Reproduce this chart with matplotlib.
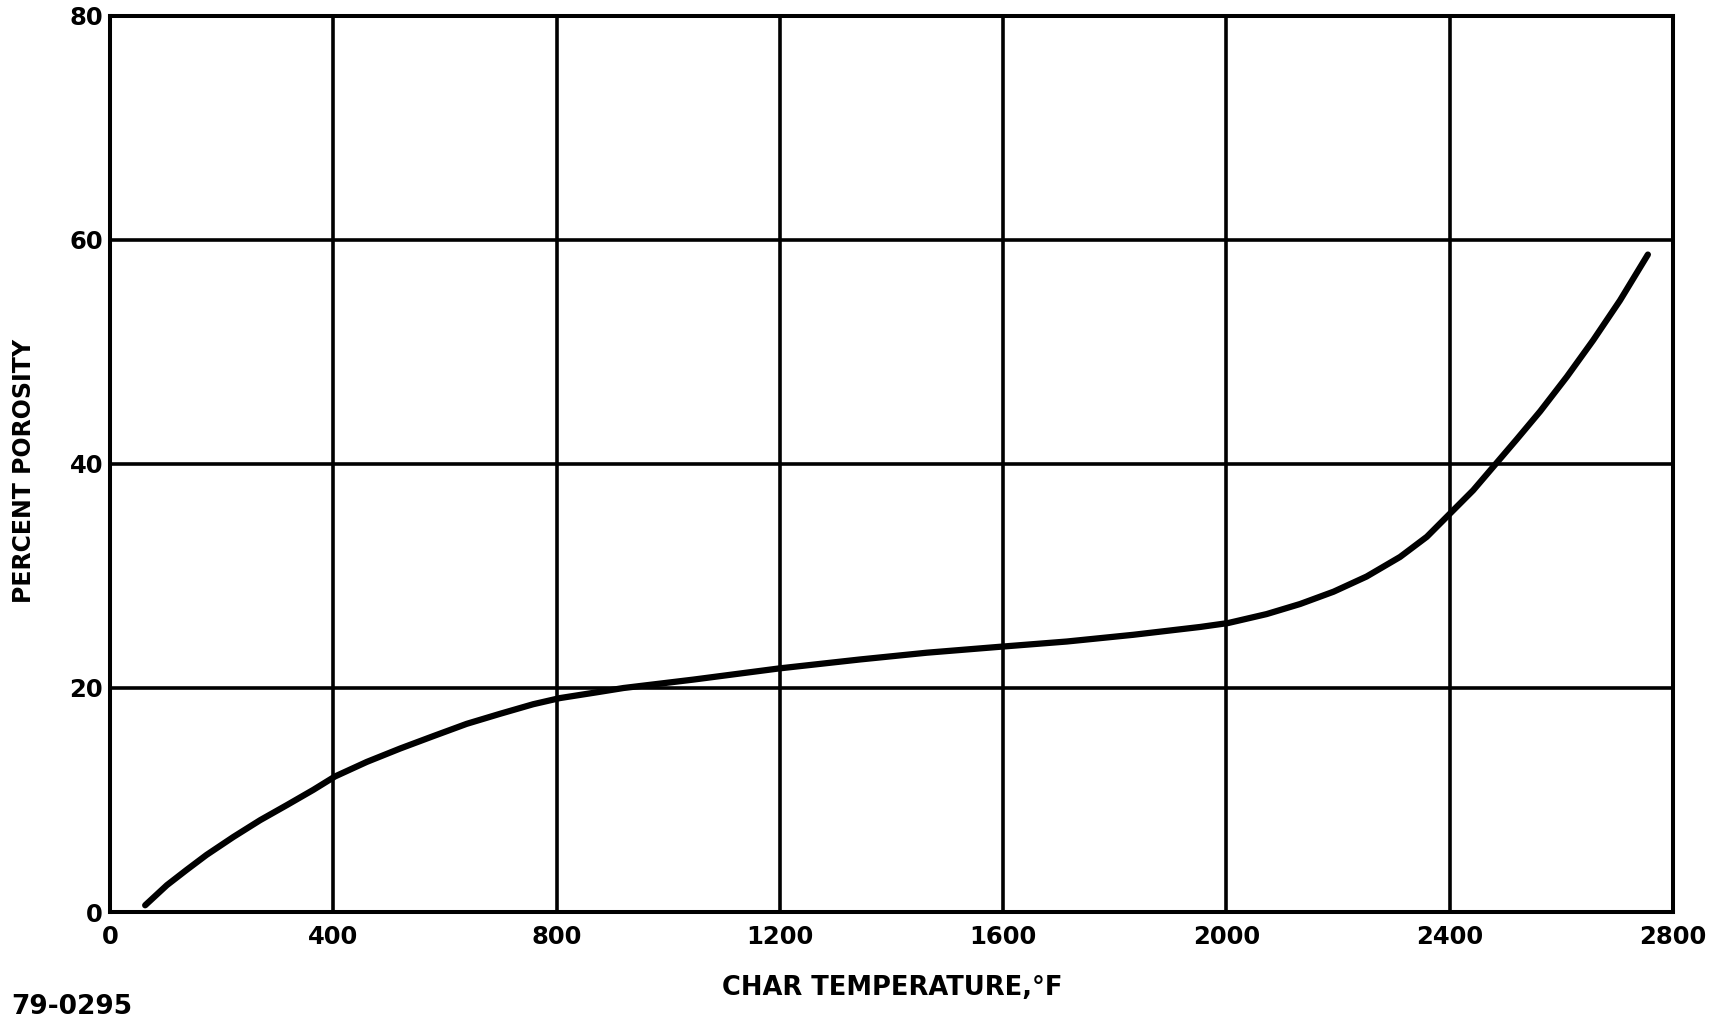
import matplotlib
matplotlib.use("Agg")
import matplotlib.pyplot as plt

# Data
char_temp_f = [63, 102, 137, 173, 221, 269, 317, 364, 403, 460, 520, 579,
               639, 699, 758, 806, 870, 920, 1045, 1199, 1344, 1463, 1599,
               1714, 1833, 1953, 2003, 2072, 2132, 2192, 2251, 2311, 2359,
               2401, 2442, 2478, 2520, 2562, 2610, 2657, 2705, 2755]
porosity_pct = [0.6, 2.4, 3.75, 5.1, 6.7, 8.2, 9.55, 10.9, 12.1, 13.4, 14.6, 15.7,
                16.8, 17.7, 18.55, 19.1, 19.6, 20.0, 20.75, 21.75, 22.55, 23.15, 23.7,
                24.15, 24.75, 25.45, 25.8, 26.6, 27.5, 28.6, 29.95, 31.7, 33.5,
                35.6, 37.65, 39.75, 42.2, 44.7, 47.8, 51.05, 54.6, 58.7]

x_ticks = [0, 400, 800, 1200, 1600, 2000, 2400, 2800]
y_ticks = [0, 20, 40, 60, 80]

plt.rcParams['font.family'] = ['DejaVu Sans']

fig = plt.figure(figsize=(17.25, 10.26), dpi=100)
ax = fig.add_axes([110 / 1725, 1 - 912 / 1026, (1673 - 110) / 1725, (912 - 16) / 1026])

ax.set_xlim(0, 2800)
ax.set_ylim(0, 80)
ax.set_xticks(x_ticks)
ax.set_yticks(y_ticks)
ax.set_xticklabels([str(v) for v in x_ticks], fontsize=17.5, fontweight='bold')
ax.set_yticklabels([str(v) for v in y_ticks], fontsize=17.5, fontweight='bold')
ax.tick_params(axis='both', length=0)
ax.tick_params(axis='x', pad=9)
ax.tick_params(axis='y', pad=5)

ax.grid(True, color='black', linewidth=2.6)
ax.set_axisbelow(True)
for sp in ax.spines.values():
    sp.set_linewidth(2.9)
    sp.set_color('black')

ax.plot(char_temp_f, porosity_pct, color='black', linewidth=4.5,
        solid_capstyle='round', solid_joinstyle='round', zorder=3)

fig.text(24 / 1725, 1 - 471 / 1026, 'PERCENT POROSITY', rotation=90,
         ha='center', va='center', fontsize=17, fontweight='bold')
fig.text(892 / 1725, 1 - 988 / 1026, 'CHAR TEMPERATURE,\u00b0F',
         ha='center', va='center', fontsize=18.5, fontweight='bold')
fig.text(11 / 1725, 1 - 1007 / 1026, '79-0295',
         ha='left', va='center', fontsize=19, fontweight='bold')

fig.savefig('out.png', dpi=100)
